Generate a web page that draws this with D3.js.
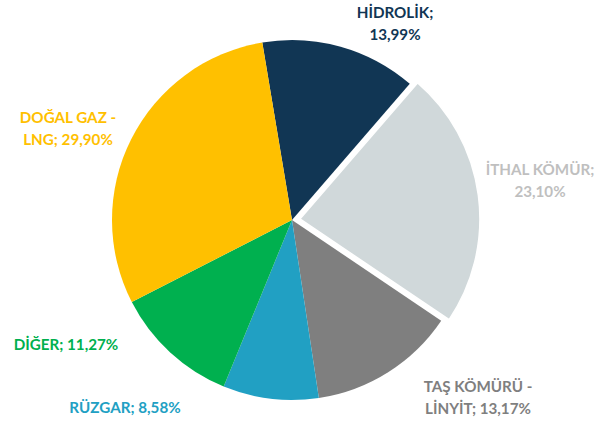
<!DOCTYPE html>
<html>
<head>
<meta charset="utf-8">
<style>
  body { margin: 0; background: #fff; }
  .lbl { font-family: "Lato", "Open Sans", sans-serif; font-weight: 700; font-size: 15.2px; }
</style>
</head>
<body>
<script src="https://cdn.jsdelivr.net/npm/d3@7"></script>
<script>
  // veri
  var categories = ["HİDROLİK", "İTHAL KÖMÜR", "TAŞ KÖMÜRÜ - LİNYİT", "RÜZGAR", "DİĞER", "DOĞAL GAZ - LNG"];
  var values = [13.99, 23.10, 13.17, 8.58, 11.27, 29.90];
  var labelLines = [
    ["HİDROLİK;", "13,99%"],
    ["İTHAL KÖMÜR;", "23,10%"],
    ["TAŞ KÖMÜRÜ -", "LİNYİT; 13,17%"],
    ["RÜZGAR; 8,58%"],
    ["DİĞER; 11,27%"],
    ["DOĞAL GAZ -", "LNG; 29,90%"]
  ];

  // görünüm
  var sliceColors = ["#113654", "#d0d8da", "#7f7f7f", "#21a0c3", "#00b04f", "#ffc000"];
  var textColors  = ["#113654", "#bfbfbf", "#7f7f7f", "#21a0c3", "#00b04f", "#ffc000"];
  var explode = [0, 8, 0, 0, 0, 0];
  // etiket merkezleri (pasta merkezine göre)
  var labelPos = [[103, -196], [248, -39], [186, 178], [-167, 188], [-226, 125], [-224, -91]];

  var width = 614, height = 421;
  var cx = 292, cy = 220, radius = 180;

  var svg = d3.select("body").append("svg")
      .attr("width", width)
      .attr("height", height);

  var g = svg.append("g").attr("transform", "translate(" + cx + "," + cy + ")");

  var startA = -9.5 * Math.PI / 180;
  var pie = d3.pie().sort(null).value(d => d)
      .startAngle(startA).endAngle(startA + 2 * Math.PI);
  var arcs = pie(values);
  var arc = d3.arc().innerRadius(0).outerRadius(radius);

  g.selectAll("path")
    .data(arcs)
    .join("path")
    .attr("transform", (d, i) => {
      var m = (d.startAngle + d.endAngle) / 2;
      return "translate(" + (Math.sin(m) * explode[i]) + "," + (-Math.cos(m) * explode[i]) + ")";
    })
    .attr("d", arc)
    .attr("fill", (d, i) => sliceColors[i])
    .attr("stroke", (d, i) => explode[i] ? "#fff" : "none")
    .attr("stroke-width", 1.5);

  var lbl = g.selectAll("text.lbl")
    .data(arcs)
    .join("text")
    .attr("class", "lbl")
    .attr("text-anchor", "middle")
    .attr("fill", (d, i) => textColors[i])
    .attr("transform", (d, i) => "translate(" + labelPos[i][0] + "," + labelPos[i][1] + ")");

  lbl.each(function(d, i) {
    var lines = labelLines[i];
    var t = d3.select(this);
    lines.forEach(function(s, k) {
      t.append("tspan")
        .attr("x", 0)
        .attr("y", (k - (lines.length - 1) / 2) * 22)
        .attr("dy", "0.35em")
        .text(s);
    });
  });
</script>
</body>
</html>
